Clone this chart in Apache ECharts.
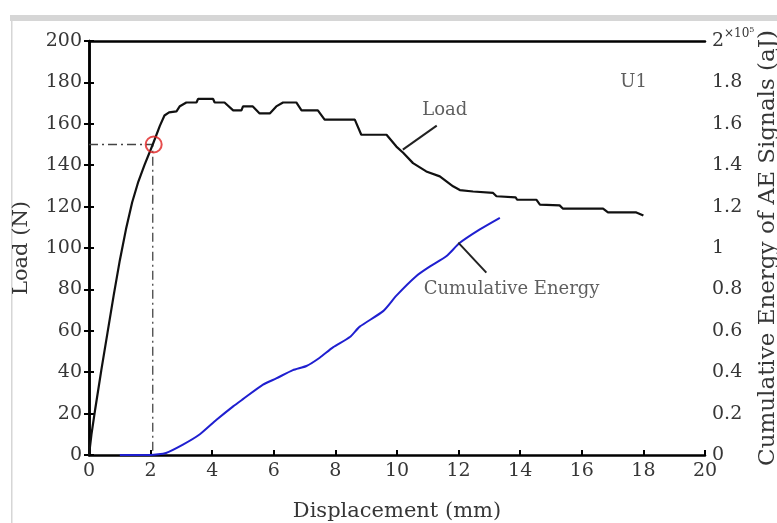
<!DOCTYPE html>
<html>
<head>
<meta charset="utf-8">
<script src="https://cdn.jsdelivr.net/npm/echarts@6/dist/echarts.min.js"></script>
<style>
  html, body { margin: 0; padding: 0; background: #fff; }
  #main { width: 777px; height: 523px; }
</style>
</head>
<body>
<div id="main"></div>
<script>
// load vs displacement, [mm, N]
var loadData = [
  [0, 0], [0.08, 10], [0.2, 22], [0.4, 41], [0.6, 59], [0.8, 77], [1.0, 94], [1.2, 109],
  [1.4, 122], [1.6, 132], [1.8, 140], [2.07, 150], [2.3, 159], [2.45, 164],
  [2.6, 165.5], [2.84, 166], [2.95, 168.5], [3.16, 170.3], [3.49, 170.3], [3.54, 172],
  [4.03, 172], [4.08, 170.3], [4.4, 170.3], [4.68, 166.5], [4.95, 166.5], [5.0, 168.4],
  [5.32, 168.4], [5.54, 165], [5.87, 165], [6.08, 168.4], [6.3, 170.3], [6.73, 170.3],
  [6.9, 166.5], [7.43, 166.5], [7.65, 162], [8.63, 162], [8.84, 154.7], [9.66, 154.7],
  [9.98, 149], [10.2, 146], [10.52, 141], [10.95, 137], [11.39, 134.6], [11.82, 129.8],
  [12.04, 128], [12.47, 127.3], [13.12, 126.6], [13.23, 125], [13.85, 124.5],
  [13.9, 123.3], [14.53, 123.3], [14.64, 121], [15.28, 120.6], [15.39, 119],
  [16.69, 119], [16.85, 117.2], [17.77, 117.2], [18.0, 115.7]
];
// cumulative AE energy, [mm, x10^5 aJ]
var energyData = [
  [1.0, 0], [2.0, 0], [2.5, 0.01], [3.05, 0.05], [3.6, 0.1], [4.14, 0.17],
  [4.68, 0.235], [5.0, 0.27], [5.65, 0.34], [6.08, 0.37], [6.62, 0.41], [7.06, 0.43],
  [7.49, 0.47], [7.92, 0.52], [8.47, 0.57], [8.79, 0.62], [9.55, 0.695], [9.98, 0.77],
  [10.63, 0.865], [11.06, 0.91], [11.6, 0.96], [12.04, 1.025], [12.69, 1.09], [13.34, 1.146]
];
// marker at 150 N
var markerPoint = [2.1, 150];
var guideLine = [[0, 150], [2.07, 150], [2.07, 0]];
var loadLeader = [[10.19, 147.5], [11.29, 159.1]];
var energyLeader = [[11.99, 102.6], [12.9, 88.1]];
var textLabels = [
  { value: [11.55, 166.3], text: 'Load' },
  { value: [13.72, 79.9], text: 'Cumulative Energy' },
  { value: [17.68, 179.8], text: 'U1' }
];

var font = 'DejaVu Serif';
var txt = '#363636';

var myChart = echarts.init(document.getElementById('main'));
var option = {
  backgroundColor: '#fff',
  animation: false,
  grid: { left: 89, right: 72, top: 41, bottom: 68, containLabel: false, outerBoundsMode: 'none' },
  graphic: [
    { type: 'rect', shape: { x: 10, y: 15, width: 767, height: 6 }, style: { fill: '#d6d6d6' } },
    { type: 'rect', shape: { x: 11, y: 15, width: 1.5, height: 508 }, style: { fill: '#d6d6d6' } },
    {
      type: 'text', left: 724, top: 26,
      style: {
        text: '{a|×10}{b|5}',
        rich: {
          a: { fontFamily: font, fontSize: 12, fill: txt },
          b: { fontFamily: font, fontSize: 8, fill: txt, verticalAlign: 'top', padding: [0, 0, 8, 0] }
        }
      }
    }
  ],
  xAxis: [{
    type: 'value', min: 0, max: 20, interval: 2,
    name: 'Displacement (mm)', nameLocation: 'middle', nameGap: 46,
    nameTextStyle: { fontFamily: font, fontSize: 21, color: txt },
    axisLine: { lineStyle: { color: '#000', width: 2.5 } },
    axisTick: { inside: true, length: 5, lineStyle: { color: '#000', width: 2 } },
    axisLabel: { fontFamily: font, fontSize: 19, color: txt, margin: 7 },
    splitLine: { show: false }
  }, {
    type: 'value', min: 0, max: 20, position: 'top',
    axisLine: { show: true, onZero: false, lineStyle: { color: '#000', width: 2.5 } },
    axisTick: { show: false }, axisLabel: { show: false }, splitLine: { show: false }
  }],
  yAxis: [{
    type: 'value', min: 0, max: 200, interval: 20,
    name: 'Load (N)', nameLocation: 'middle', nameGap: 57, nameRotate: 90,
    nameTextStyle: { fontFamily: font, fontSize: 21, color: txt },
    axisLine: { show: true, lineStyle: { color: '#000', width: 2.5 } },
    axisTick: { inside: true, length: 5, lineStyle: { color: '#000', width: 2 } },
    axisLabel: { fontFamily: font, fontSize: 19, color: txt, margin: 7 },
    splitLine: { show: false }
  }, {
    type: 'value', min: 0, max: 2, interval: 0.2, position: 'right',
    name: 'Cumulative Energy of AE Signals (aJ)', nameLocation: 'middle', nameGap: 52, nameRotate: 90,
    nameTextStyle: { fontFamily: font, fontSize: 23, color: txt },
    axisLine: { show: true, lineStyle: { color: '#000', width: 2.5 } },
    axisTick: { inside: true, length: 5, lineStyle: { color: '#000', width: 2 } },
    axisLabel: {
      fontFamily: font, fontSize: 19, color: txt, margin: 7,
      formatter: function (v) { return String(Math.round(v * 10) / 10); }
    },
    splitLine: { show: false }
  }],
  series: [
    {
      name: 'Load', type: 'line', data: loadData, symbol: 'none',
      lineStyle: { color: '#111', width: 2.2 }, z: 3
    },
    {
      name: 'Cumulative Energy', type: 'line', yAxisIndex: 1, data: energyData,
      symbol: 'none', smooth: 0.2, lineStyle: { color: '#1f1fd0', width: 2 }, z: 3
    },
    {
      type: 'line', data: guideLine, symbol: 'none',
      lineStyle: { color: '#444', width: 1.3, type: [9, 4, 2, 4] }, z: 2
    },
    {
      type: 'line', data: loadLeader, symbol: 'none',
      lineStyle: { color: '#222', width: 2 }
    },
    {
      type: 'line', data: energyLeader, symbol: 'none',
      lineStyle: { color: '#222', width: 2 }
    },
    {
      type: 'scatter', data: [markerPoint], symbol: 'circle', symbolSize: 16,
      itemStyle: { color: 'rgba(0,0,0,0)', borderColor: '#e02020', borderWidth: 2 }, z: 4
    },
    {
      type: 'scatter', symbolSize: 0,
      data: textLabels.map(function (d) { return { value: d.value, name: d.text }; }),
      label: {
        show: true, position: 'inside', formatter: '{b}',
        fontFamily: font, fontSize: 18, color: txt
      }
    }
  ]
};
myChart.setOption(option);
</script>
</body>
</html>
